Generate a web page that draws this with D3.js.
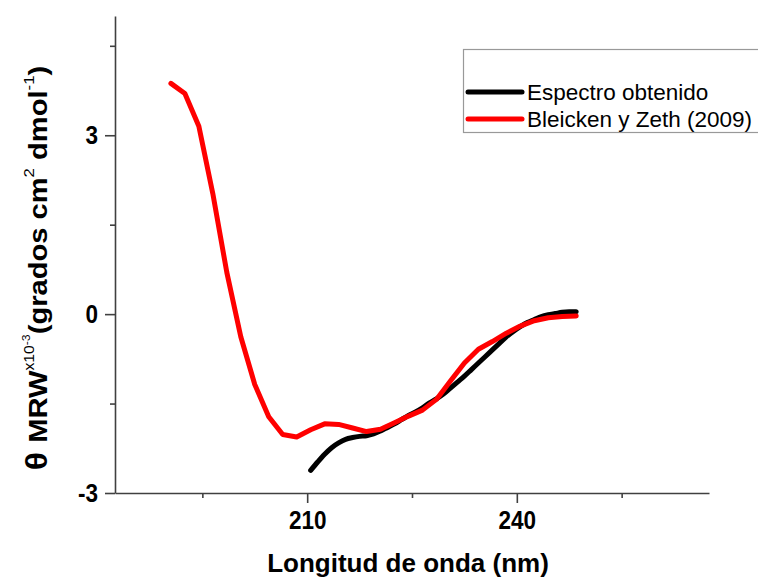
<!DOCTYPE html>
<html>
<head>
<meta charset="utf-8">
<script src="https://cdn.jsdelivr.net/npm/d3@7"></script>
<style>
  html, body { margin: 0; padding: 0; background: #fff; }
  svg { display: block; font-family: "Liberation Sans", Arial, sans-serif; }
</style>
</head>
<body>
<svg id="chart" width="758" height="578"></svg>
<script>
// ---- data ----
const seriesNames = ["Espectro obtenido", "Bleicken y Zeth (2009)"];
const seriesColors = ["#000000", "#ff0000"];

const blackX = [210.5,211.5,212.5,213.5,214.5,215.5,216.5,217.5,218.5,219.5,220.5,221.5,222.5,223.5,224.5,225.5,226.5,227.5,228.5,229.5,230.5,231.5,232.5,233.5,234.5,235.5,236.5,237.5,238.5,239.5,240.5,241.5,242.5,243.5,244.5,245.5,246.5,247.5,248.5];
const blackY = [-2.62,-2.48,-2.35,-2.24,-2.16,-2.10,-2.07,-2.05,-2.04,-2.01,-1.96,-1.90,-1.84,-1.77,-1.70,-1.64,-1.57,-1.49,-1.42,-1.34,-1.24,-1.14,-1.04,-0.93,-0.82,-0.71,-0.60,-0.49,-0.38,-0.29,-0.21,-0.14,-0.09,-0.04,-0.01,0.01,0.03,0.04,0.04];

const redX = [190.5,192.5,194.5,196.5,198.5,200.5,202.5,204.5,206.5,208.5,210.5,212.5,214.5,216.5,218.5,220.5,222.5,224.5,226.5,228.5,230.5,232.5,234.5,236.5,238.5,240.5,242.5,244.5,246.5,248.5];
const redY = [3.87,3.70,3.15,2.02,0.70,-0.38,-1.18,-1.72,-2.02,-2.06,-1.94,-1.84,-1.85,-1.91,-1.97,-1.93,-1.82,-1.71,-1.61,-1.43,-1.12,-0.82,-0.59,-0.46,-0.32,-0.20,-0.11,-0.06,-0.04,-0.03];

const xMajorTicks = [210, 240];
const xMinorTicks = [195, 225, 255];
const yMajorTicks = [-3, 0, 3];
const yMinorTicks = [-1.5, 1.5, 4.5];

// ---- layout ----
const svg = d3.select("#chart");
const mLeft = 115, mRight = 709, mTop = 16, mBottom = 493;
const x = d3.scaleLinear().domain([182.5, 267.5]).range([mLeft, mRight]);
const y = d3.scaleLinear().domain([-3, 5]).range([mBottom, mTop]);
const axisColor = "#404040";

function styleAxis(g) {
  g.selectAll("path.domain").attr("stroke", axisColor).attr("stroke-width", 1.6);
  g.selectAll(".tick line").attr("stroke", axisColor).attr("stroke-width", 1.6);
  g.selectAll(".tick text").attr("fill", "#000").attr("font-weight", "bold")
    .attr("font-size", 25).attr("font-family", "'Liberation Sans', Arial, sans-serif");
}

// minor ticks
svg.append("g").attr("transform", `translate(0,${mBottom})`)
  .call(d3.axisBottom(x).tickValues(xMinorTicks).tickSize(5).tickFormat(""))
  .call(g => g.select("path.domain").remove())
  .call(styleAxis);
svg.append("g").attr("transform", `translate(${mLeft},0)`)
  .call(d3.axisLeft(y).tickValues(yMinorTicks).tickSize(5).tickFormat(""))
  .call(g => g.select("path.domain").remove())
  .call(styleAxis);

// major
svg.append("g").attr("transform", `translate(0,${mBottom})`)
  .call(d3.axisBottom(x).tickValues(xMajorTicks).tickSize(10).tickSizeOuter(0).tickPadding(8).tickFormat(d => String(d)))
  .call(styleAxis)
  .call(g => g.selectAll(".tick text").attr("transform", "scale(0.9,1)"));
svg.append("g").attr("transform", `translate(${mLeft},0)`)
  .call(d3.axisLeft(y).tickValues(yMajorTicks).tickSize(10).tickSizeOuter(0).tickPadding(7).tickFormat(d => String(d)))
  .call(styleAxis)
  .call(g => g.selectAll(".tick text").attr("x", -17 / 0.9).attr("transform", "scale(0.9,1)"));

// lines
const series = [
  { xs: blackX, ys: blackY, curve: d3.curveCatmullRom },
  { xs: redX, ys: redY, curve: d3.curveLinear }
];
series.forEach((s, i) => {
  const pts = s.xs.map((v, j) => [v, s.ys[j]]);
  svg.append("path")
    .datum(pts)
    .attr("fill", "none")
    .attr("stroke", seriesColors[i])
    .attr("stroke-width", 5)
    .attr("stroke-linejoin", "round")
    .attr("stroke-linecap", "round")
    .attr("d", d3.line().x(d => x(d[0])).y(d => y(d[1])).curve(s.curve));
});

// legend
const lg = svg.append("g");
lg.append("rect").attr("x", 463.5).attr("y", 49.5).attr("width", 320).attr("height", 83)
  .attr("fill", "#fff").attr("stroke", "#999").attr("stroke-width", 1.2);
const legendYs = [92, 119];
seriesNames.forEach((n, i) => {
  lg.append("line").attr("x1", 468).attr("x2", 522).attr("y1", legendYs[i]).attr("y2", legendYs[i])
    .attr("stroke", seriesColors[i]).attr("stroke-width", 5).attr("stroke-linecap", "round");
  lg.append("text").attr("x", 527).attr("y", legendYs[i] + 7.5)
    .attr("font-size", 22.5).attr("fill", "#000").text(n);
});

// x title
svg.append("text").attr("x", 408).attr("y", 572).attr("text-anchor", "middle")
  .attr("font-size", 26).attr("font-weight", "bold").attr("fill", "#000")
  .text("Longitud de onda (nm)");

// y title
const yt = svg.append("text")
  .attr("transform", "translate(47,268) rotate(-90) scale(1.12,1)")
  .attr("text-anchor", "middle")
  .attr("font-size", 26).attr("font-weight", "bold").attr("fill", "#000");
yt.append("tspan").attr("font-size", 30).text("θ ");
yt.append("tspan").text("MRW");
yt.append("tspan").attr("font-size", 14).attr("font-weight", "normal").attr("dy", -13).text("x10");
yt.append("tspan").attr("font-size", 11).attr("font-weight", "normal").attr("dy", -4).text("-3");
yt.append("tspan").attr("dy", 17).text("(grados cm");
yt.append("tspan").attr("font-size", 15).attr("font-weight", "normal").attr("dy", -13).text("2");
yt.append("tspan").attr("dy", 13).text(" dmol");
yt.append("tspan").attr("font-size", 15).attr("font-weight", "normal").attr("dy", -13).text("-1");
yt.append("tspan").attr("dy", 13).text(")");
</script>
</body>
</html>
